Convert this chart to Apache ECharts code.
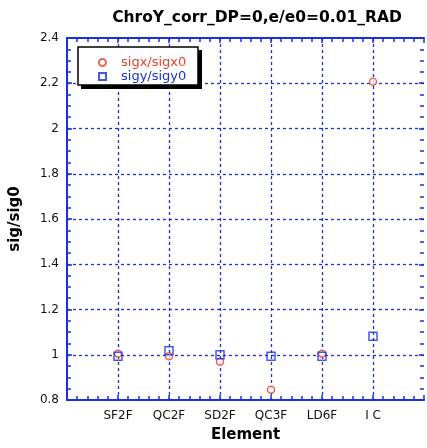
<!DOCTYPE html>
<html><head><meta charset="utf-8">
<script src="https://cdn.jsdelivr.net/npm/echarts@6/dist/echarts.min.js"></script>
<style>html,body{margin:0;padding:0;background:#fff}#c{width:427px;height:448px}</style>
</head><body><div id="c"></div>
<script>
const categories = ['SF2F','QC2F','SD2F','QC3F','LD6F','I C'];
const sigx = [1.004, 0.993, 0.969, 0.845, 1.004, 2.207];
const sigy = [0.993, 1.018, 1.000, 0.993, 0.993, 1.082];
const yTicks = [0.8,1,1.2,1.4,1.6,1.8,2,2.2,2.4];

const blue = '#1a2fe0';
const red = '#e8402a';
const chart = echarts.init(document.getElementById('c'));
const fmtX = v => (v >= 1 && v <= categories.length && Number.isInteger(v)) ? categories[v-1] : '';
const aLine = {show:true,onZero:false,lineStyle:{color:blue,width:2}};
const aTick = {show:true,inside:true,length:5,lineStyle:{color:blue,width:1.5}};
const mTick = n => ({show:true,splitNumber:n,length:4,lineStyle:{color:blue,width:1.5}});
const grid = {type:[3,3],width:1.3,color:blue};
chart.setOption({
  animation:false,
  title:{text:'ChroY_corr_DP=0,e/e0=0.01_RAD',left:252,top:5,textAlign:'center',
    textStyle:{fontFamily:'DejaVu Sans',fontWeight:'bold',fontSize:15.5,color:'#000'}},
  graphic:[
    {type:'rect',shape:{x:81,y:50,width:121,height:39},style:{fill:'#000'},z:100},
    {type:'rect',shape:{x:78,y:47,width:120,height:38},style:{fill:'#fff',stroke:'#000',lineWidth:1.5},z:101}
  ],
  legend:{left:98,top:56,orient:'vertical',itemGap:1,itemWidth:7,itemHeight:7,z:110,
    padding:0,
    textStyle:{fontFamily:'DejaVu Sans',fontSize:13,padding:[0,0,0,10]},
    data:[{name:'sigx/sigx0',icon:'circle',textStyle:{color:red}},{name:'sigy/sigy0',icon:'rect',textStyle:{color:blue}}]},
  grid:{left:65,right:-1,top:38,bottom:47},
  xAxis:[
    {type:'value',min:0,max:7,interval:1,
      name:'Element',nameLocation:'middle',nameGap:28,
      nameTextStyle:{fontFamily:'DejaVu Sans',fontWeight:'bold',fontSize:15,color:'#000'},
      axisLabel:{formatter:fmtX,color:'#111',fontFamily:'DejaVu Sans',fontSize:12,margin:10},
      splitLine:{show:true,showMinLine:false,showMaxLine:false,lineStyle:grid},
      axisLine:aLine,axisTick:aTick,minorTick:mTick(5)},
    {type:'value',position:'top',min:0,max:7,interval:1,axisLabel:{show:false},splitLine:{show:false},
      axisLine:aLine,axisTick:aTick,minorTick:mTick(5)}
  ],
  yAxis:[
    {type:'value',min:0.8,max:2.4,interval:0.2,
      name:'sig/sig0',nameLocation:'middle',nameGap:44,
      nameTextStyle:{fontFamily:'DejaVu Sans',fontWeight:'bold',fontSize:15,color:'#000'},
      axisLabel:{formatter:v=>{const t=yTicks.find(x=>Math.abs(x-v)<1e-6);return t===undefined?'':String(t);},color:'#111',fontFamily:'DejaVu Sans',fontSize:12,margin:8},
      splitLine:{show:true,showMinLine:false,showMaxLine:false,lineStyle:grid},
      axisLine:aLine,axisTick:aTick,minorTick:mTick(4)},
    {type:'value',position:'right',min:0.8,max:2.4,interval:0.2,axisLabel:{show:false},splitLine:{show:false},
      axisLine:{show:false,onZero:false},axisTick:aTick,minorTick:mTick(4)}
  ],
  series:[
    {name:'sigx/sigx0',type:'scatter',symbol:'circle',symbolSize:7,
      itemStyle:{color:'#fff',borderColor:red,borderWidth:1.5},
      data:sigx.map((v,i)=>[i+1,v]),z:3},
    {name:'sigy/sigy0',type:'scatter',symbol:'rect',symbolSize:8,
      itemStyle:{color:'transparent',borderColor:blue,borderWidth:1.5},
      data:sigy.map((v,i)=>[i+1,v]),z:4}
  ]
});
</script></body></html>
